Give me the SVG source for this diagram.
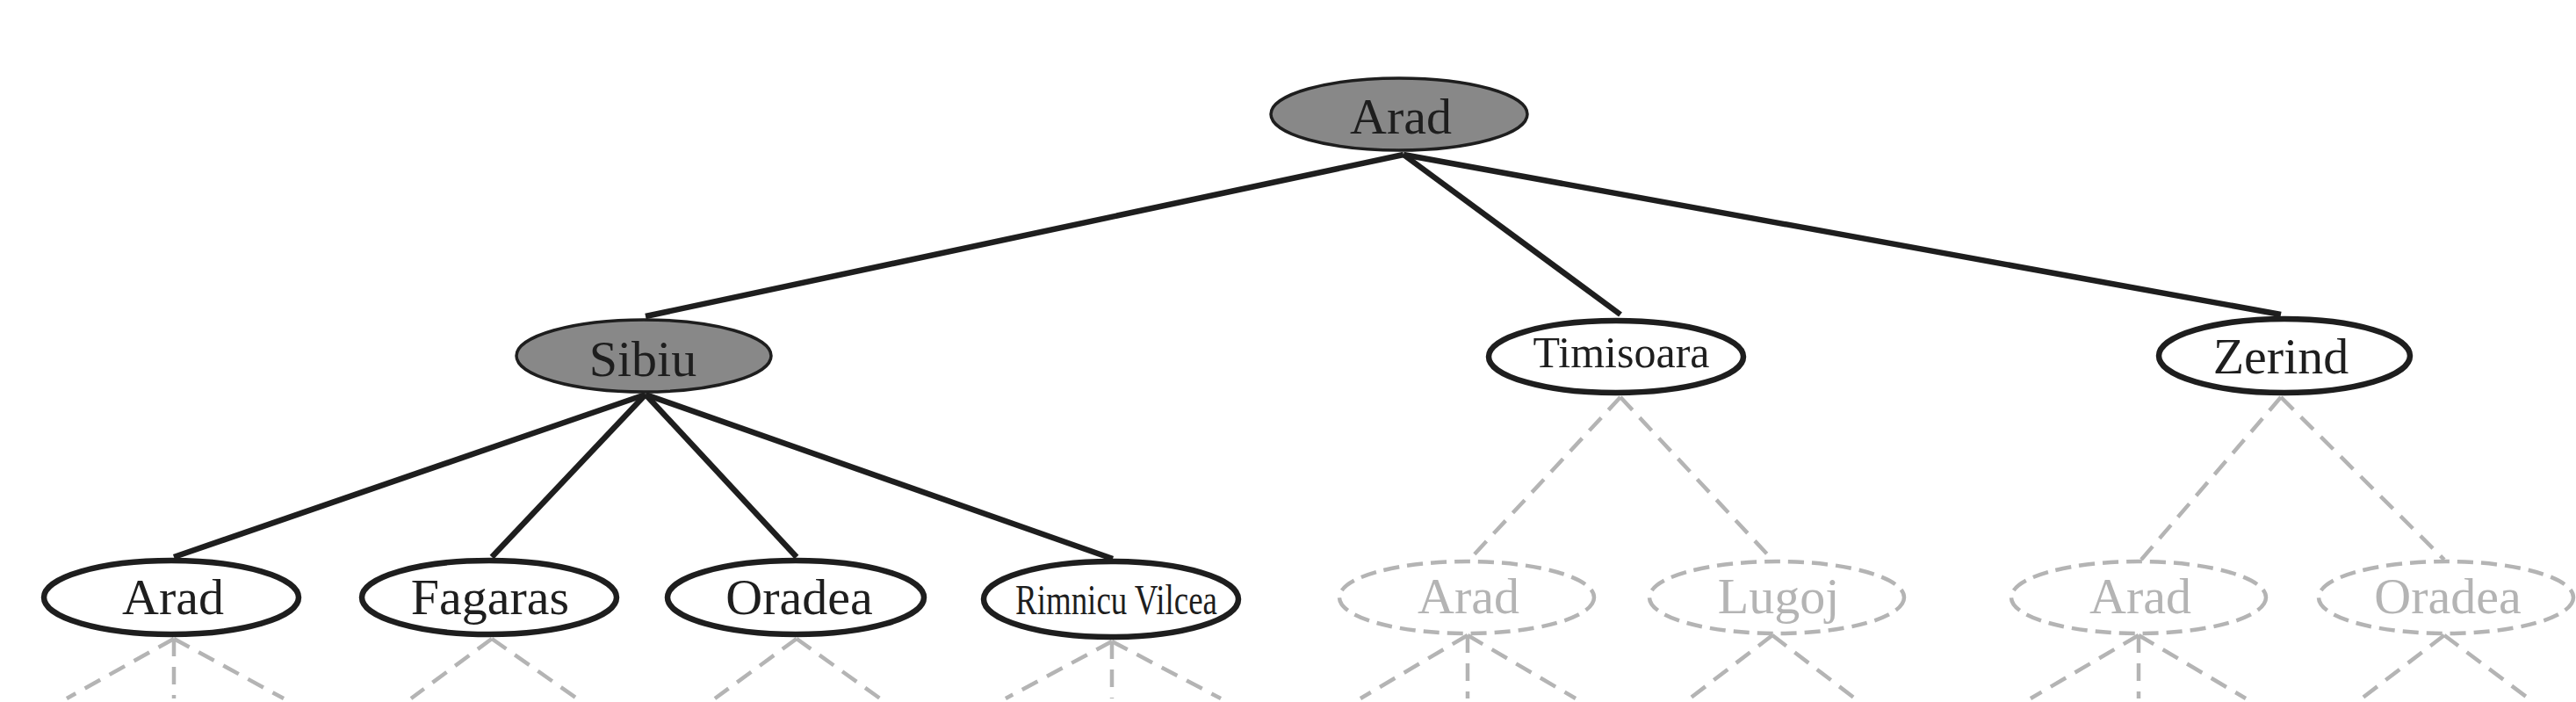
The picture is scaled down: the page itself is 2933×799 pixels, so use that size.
<svg xmlns="http://www.w3.org/2000/svg" width="2933" height="799" viewBox="0 0 2933 799">
<style>
.bg{fill:#ffffff}
.exp{fill:#888888;stroke:#1e1e1e;stroke-width:3.5}
.gen{fill:#ffffff;stroke:#1e1e1e;stroke-width:6.5}
.fut{fill:#ffffff;stroke:#b4b4b4;stroke-width:4.5;stroke-dasharray:18 9}
.t{font-family:"Liberation Serif","Times New Roman",serif;font-size:58px;fill:#1e1e1e;text-anchor:middle}
.tg{font-family:"Liberation Serif","Times New Roman",serif;font-size:58px;fill:#b4b4b4;text-anchor:middle}
.e{stroke:#1e1e1e;stroke-width:6.5;fill:none;stroke-linecap:butt}
.d{stroke:#b4b4b4;stroke-width:4.5;fill:none;stroke-dasharray:20 12}
</style>
<rect class="bg" x="0" y="0" width="2933" height="799"/>
<g id="connectors">
  <line class="e" x1="1598" y1="176" x2="735" y2="360"/>
  <line class="e" x1="1598" y1="176" x2="1845" y2="358"/>
  <line class="e" x1="1598" y1="176" x2="2597" y2="358"/>
  <line class="e" x1="735" y1="449" x2="198" y2="634"/>
  <line class="e" x1="735" y1="449" x2="560" y2="634"/>
  <line class="e" x1="735" y1="449" x2="907" y2="634"/>
  <line class="e" x1="735" y1="449" x2="1267" y2="636"/>
  <line class="d" x1="1845" y1="452" x2="1673" y2="637"/>
  <line class="d" x1="1845" y1="452" x2="2018" y2="637"/>
  <line class="d" x1="2597" y1="452" x2="2438" y2="637"/>
  <line class="d" x1="2597" y1="452" x2="2783" y2="637"/>
  <line class="d" x1="198" y1="727" x2="76" y2="795"/>
  <line class="d" x1="198" y1="727" x2="198" y2="795"/>
  <line class="d" x1="198" y1="727" x2="323" y2="795"/>
  <line class="d" x1="560" y1="727" x2="468" y2="795"/>
  <line class="d" x1="560" y1="727" x2="657" y2="795"/>
  <line class="d" x1="907" y1="727" x2="814" y2="795"/>
  <line class="d" x1="907" y1="727" x2="1002" y2="795"/>
  <line class="d" x1="1266" y1="730" x2="1145" y2="795"/>
  <line class="d" x1="1266" y1="730" x2="1266" y2="795"/>
  <line class="d" x1="1266" y1="730" x2="1390" y2="795"/>
  <line class="d" x1="1671" y1="723" x2="1549" y2="795"/>
  <line class="d" x1="1671" y1="723" x2="1671" y2="795"/>
  <line class="d" x1="1671" y1="723" x2="1794" y2="795"/>
  <line class="d" x1="2018" y1="723" x2="1924" y2="795"/>
  <line class="d" x1="2018" y1="723" x2="2112" y2="795"/>
  <line class="d" x1="2435" y1="723" x2="2312" y2="795"/>
  <line class="d" x1="2435" y1="723" x2="2435" y2="795"/>
  <line class="d" x1="2435" y1="723" x2="2557" y2="795"/>
  <line class="d" x1="2783" y1="723" x2="2689" y2="795"/>
  <line class="d" x1="2783" y1="723" x2="2879" y2="795"/>
</g>
<g id="n-root">
  <ellipse class="exp" cx="1593" cy="130" rx="146" ry="41"/>
  <text class="t" x="1595" y="152">Arad</text>
</g>
<g id="n-sibiu">
  <ellipse class="exp" cx="733" cy="405" rx="145" ry="41"/>
  <text class="t" x="732" y="428" font-size="56">Sibiu</text>
</g>
<g id="n-timisoara">
  <ellipse class="gen" cx="1840" cy="406" rx="145" ry="41"/>
  <text class="t" x="1846" y="418" style="font-size:50px">Timisoara</text>
</g>
<g id="n-zerind">
  <ellipse class="gen" cx="2601" cy="405" rx="143" ry="42"/>
  <text class="t" x="2597" y="425">Zerind</text>
</g>
<g id="n-arad2">
  <ellipse class="gen" cx="195" cy="680" rx="145" ry="42"/>
  <text class="t" x="197" y="699">Arad</text>
</g>
<g id="n-fagaras">
  <ellipse class="gen" cx="557" cy="680" rx="145" ry="42"/>
  <text class="t" x="558" y="699">Fagaras</text>
</g>
<g id="n-oradea">
  <ellipse class="gen" cx="906" cy="680" rx="146" ry="42"/>
  <text class="t" x="910" y="699">Oradea</text>
</g>
<g id="n-rimnicu">
  <ellipse class="gen" cx="1265" cy="682" rx="145" ry="43"/>
  <text class="t" x="1271" y="699" style="font-size:48px" textLength="230" lengthAdjust="spacingAndGlyphs">Rimnicu Vilcea</text>
</g>
<g id="n-arad3">
  <ellipse class="fut" cx="1670" cy="680" rx="145" ry="41"/>
  <text class="tg" x="1672" y="698">Arad</text>
</g>
<g id="n-lugoj">
  <ellipse class="fut" cx="2023" cy="680" rx="145" ry="41"/>
  <text class="tg" x="2025" y="698">Lugoj</text>
</g>
<g id="n-arad4">
  <ellipse class="fut" cx="2435" cy="680" rx="145" ry="41"/>
  <text class="tg" x="2437" y="698">Arad</text>
</g>
<g id="n-oradea2">
  <ellipse class="fut" cx="2785" cy="680" rx="145" ry="41"/>
  <text class="tg" x="2787" y="698">Oradea</text>
</g>
</svg>
